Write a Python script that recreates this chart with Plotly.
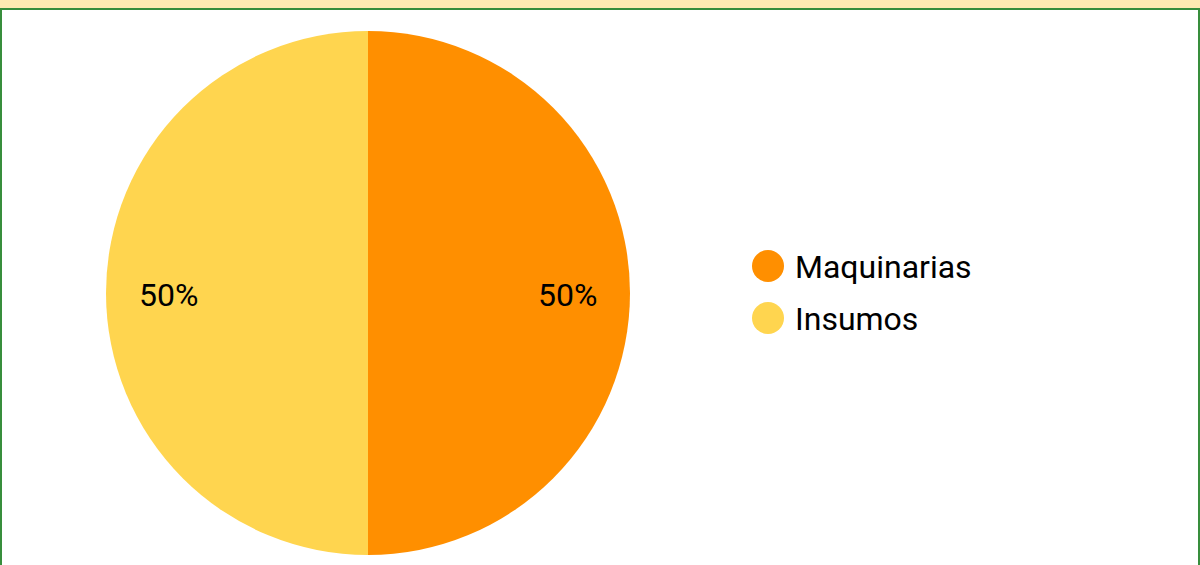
import math
import plotly.graph_objects as go

# Data
categories = ["Maquinarias", "Insumos"]
values = [50, 50]
colors = ["#FF8F00", "#FFD54F"]

W, H = 1200, 565
FONT = "Roboto"
FS = 32

fig = go.Figure()

# Pie geometry (pixels)
cx, cy, r = 368, 293, 262
fig.add_trace(go.Pie(
    labels=categories,
    values=values,
    marker=dict(colors=colors, line=dict(width=0)),
    sort=False,
    direction="clockwise",
    rotation=0,
    textinfo="none",
    hoverinfo="skip",
    showlegend=False,
    domain=dict(x=[(cx - r) / W, (cx + r) / W],
                y=[(H - cy - r) / H, (H - cy + r) / H]),
))

annotations = []

# Percentage labels placed at each slice's mid-angle (computed from the values)
total = sum(values)
cum = 0
for v in values:
    mid = (cum + v / 2) / total * 2 * math.pi
    cum += v
    annotations.append(dict(
        x=cx + 0.76 * r * math.sin(mid), y=cy - 0.76 * r * math.cos(mid) + 2,
        xref="x", yref="y", text=f"{v / total:.0%}", showarrow=False,
        xanchor="center", yanchor="middle",
        font=dict(family=FONT, size=FS, color="#000000"),
    ))

# Legend: circles + labels
leg_y = [266 + 52 * i for i in range(len(categories))]
fig.add_trace(go.Scatter(
    x=[768] * len(categories), y=leg_y, mode="markers",
    marker=dict(size=32, color=colors, line=dict(width=0)),
    hoverinfo="skip", showlegend=False, cliponaxis=False,
))
for name, yy in zip(categories, leg_y):
    annotations.append(dict(
        x=793, y=yy + 1, xref="x", yref="y", text=name, showarrow=False,
        xanchor="left", yanchor="middle",
        font=dict(family=FONT, size=FS, color="#000000"),
    ))

fig.update_layout(
    width=W, height=H,
    margin=dict(l=0, r=0, t=0, b=0),
    paper_bgcolor="white",
    plot_bgcolor="rgba(0,0,0,0)",
    xaxis=dict(visible=False, range=[0, W], domain=[0, 1], fixedrange=True),
    yaxis=dict(visible=False, range=[H, 0], domain=[0, 1], fixedrange=True),
    annotations=annotations,
    shapes=[
        dict(type="rect", xref="paper", yref="paper", x0=0, x1=1, y0=1 - 8 / H, y1=1,
             fillcolor="#FFEBB2", line=dict(width=0), layer="below"),
        dict(type="rect", xref="paper", yref="paper", x0=0, x1=1, y0=1 - 10 / H, y1=1 - 8 / H,
             fillcolor="#388E3C", line=dict(width=0), layer="above"),
        dict(type="rect", xref="paper", yref="paper", x0=0, x1=2 / W, y0=0, y1=1 - 8 / H,
             fillcolor="#388E3C", line=dict(width=0), layer="above"),
        dict(type="rect", xref="paper", yref="paper", x0=1 - 2 / W, x1=1, y0=0, y1=1 - 8 / H,
             fillcolor="#388E3C", line=dict(width=0), layer="above"),
    ],
)

fig.write_html("out.html", config={"displayModeBar": False},
               post_script="document.body.style.margin='0';document.body.style.overflow='hidden';")
